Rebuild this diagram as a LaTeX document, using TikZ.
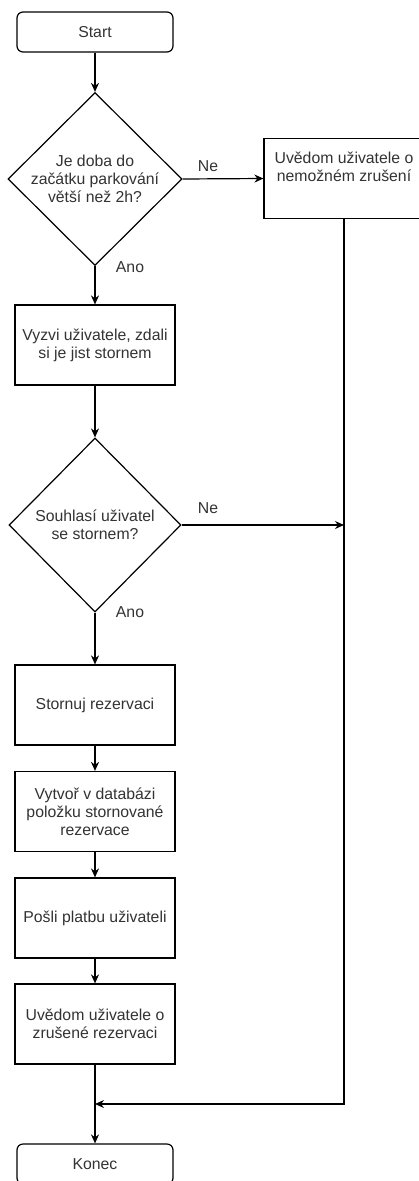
\documentclass[tikz,border=0pt]{standalone}
\usepackage{fontspec}
\setmainfont{Liberation Sans}
\usetikzlibrary{shapes.geometric,arrows.meta}
\definecolor{txt}{RGB}{51,51,51}
\begin{document}
\begin{tikzpicture}[x=1pt,y=-1pt,
  every node/.style={font=\fontsize{15.8}{18}\selectfont, text=txt},
  box/.style={draw=black, line width=1.2pt, minimum width=160pt, minimum height=80pt, align=center, inner sep=0pt},
  term/.style={box, rounded corners=6pt, minimum width=156pt, minimum height=40pt},
  dia/.style={draw=black, diamond, line width=1.2pt, inner sep=0pt},
  arr/.style={draw=black, line width=1.2pt, -{Stealth[length=9pt,width=8pt]}},
  ln/.style={draw=black, line width=1.2pt}]
\useasboundingbox (0,0) rectangle (419,1181);
\clip (0,0) rectangle (419,1181);
\fill[white] (0,0) rectangle (419,1181);

\node[term] (start) at (95,32) {Start};
\node[dia, minimum width=174pt, minimum height=173pt] (d1) at (95,179) {};
\node[align=center] (d1t) at (d1) {Je doba do\\začátku parkování\\větší než 2h?};
\node[box] (n1) at (344,178.5) {Uvědom uživatele o\\nemožném zrušení\\[6pt]};
\node[box] (vyzvi) at (95,345) {Vyzvi uživatele, zdali\\si je jist stornem};
\node[dia, minimum width=172pt, minimum height=174pt] (d2) at (95,525) {};
\node[align=center] (d2t) at (d2) {Souhlasí uživatel\\se stornem?};
\node[box] (storno) at (95,705) {Stornuj rezervaci};
\node[box] (vytvor) at (95,811.5) {Vytvoř v databázi\\položku stornované\\rezervace};
\node[box] (posli) at (95,918) {Pošli platbu uživateli};
\node[box] (uvedom) at (95,1024) {Uvědom uživatele o\\zrušené rezervaci};
\node[term] (konec) at (95,1164) {Konec};
\coordinate (m) at (95,1104);

\node (ne1) at (208,166) {Ne};
\node (ano1) at (130,267) {Ano};
\node (ne2) at (208,508) {Ne};
\node (ano2) at (130,612) {Ano};

\draw[arr] (start) -- (d1);
\draw[arr] (d1.east) -- (n1.west);
\draw[arr] (d1.south) -- (vyzvi.north);
\draw[arr] (vyzvi) -- (d2);
\draw[arr] (d2.east) -- (d2.east -| n1.south);
\draw[arr] (d2.south) -- (storno.north);
\draw[arr] (storno) -- (vytvor);
\draw[arr] (vytvor) -- (posli);
\draw[arr] (posli) -- (uvedom);
\draw[arr] (uvedom) -- (konec);
\draw[arr] (n1.south) |- (m);
\end{tikzpicture}
\end{document}
